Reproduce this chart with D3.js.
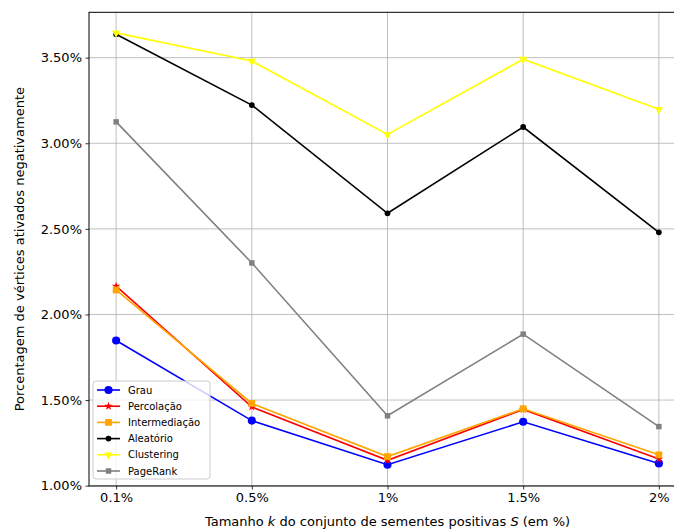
<!DOCTYPE html>
<html lang="en">
<head>
<meta charset="utf-8">
<title>Porcentagem de vértices ativados negativamente</title>
<script src="https://d3js.org/d3.v7.min.js"></script>
<style>
  body { margin: 0; background: #fff; }
  svg text { font-family: "DejaVu Sans", sans-serif; fill: #000; }
  .grid line { stroke: #b0b0b0; stroke-width: 0.8; }
</style>
</head>
<body>
<svg id="chart" width="674" height="531"></svg>
<script>
// data (values in %)
var categories = ["0.1%", "0.5%", "1%", "1.5%", "2%"];
var grau          = [1.848, 1.380, 1.122, 1.373, 1.130];
var percolacao    = [2.165, 1.460, 1.148, 1.445, 1.155];
var intermediacao = [2.143, 1.480, 1.170, 1.449, 1.180];
var aleatorio     = [3.637, 3.223, 2.591, 3.095, 2.480];
var clustering    = [3.645, 3.480, 3.052, 3.491, 3.198];
var pagerank      = [3.125, 2.301, 1.408, 1.885, 1.345];
var yTicks = [1.0, 1.5, 2.0, 2.5, 3.0, 3.5];

var series = [
  {name: "Grau",          values: grau,          color: "#0000ff", symbol: d3.symbolCircle,   size: 52, rot: 0},
  {name: "Percolação",    values: percolacao,    color: "#ff0000", symbol: d3.symbolStar,     size: 22, rot: 0},
  {name: "Intermediação", values: intermediacao, color: "#ffa500", symbol: d3.symbolSquare,   size: 46, rot: 0},
  {name: "Aleatório",     values: aleatorio,     color: "#000000", symbol: d3.symbolCircle,   size: 26, rot: 0},
  {name: "Clustering",    values: clustering,    color: "#ffff00", symbol: d3.symbolTriangle, size: 30, rot: 180},
  {name: "PageRank",      values: pagerank,      color: "#808080", symbol: d3.symbolSquare,   size: 30, rot: 0}
];

var svg = d3.select("#chart");
var plotL = 89, plotR = 686, plotT = 12.3, plotB = 486;

var x = d3.scalePoint().domain(categories).range([plotL, plotR]).padding(0.2);
var y = d3.scaleLinear().domain([0.998, 3.765]).range([plotB, plotT]);

// grid
var grid = svg.append("g").attr("class", "grid");
grid.selectAll(".gx").data(categories).enter().append("line")
    .attr("x1", function(d) { return x(d); }).attr("x2", function(d) { return x(d); })
    .attr("y1", plotT).attr("y2", plotB);
grid.selectAll(".gy").data(yTicks).enter().append("line")
    .attr("x1", plotL).attr("x2", plotR)
    .attr("y1", function(d) { return y(d); }).attr("y2", function(d) { return y(d); });

// lines and markers
var line = d3.line()
    .x(function(d, i) { return x(categories[i]); })
    .y(function(d) { return y(d); });

series.forEach(function(s) {
  var g = svg.append("g");
  g.append("path")
      .attr("d", line(s.values))
      .attr("fill", "none")
      .attr("stroke", s.color)
      .attr("stroke-width", 1.6);
  g.selectAll("path.m").data(s.values).enter().append("path")
      .attr("class", "m")
      .attr("d", d3.symbol().type(s.symbol).size(s.size))
      .attr("transform", function(d, i) {
        return "translate(" + x(categories[i]) + "," + y(d) + ") rotate(" + s.rot + ")";
      })
      .attr("fill", s.color);
});

// axes
var xAxis = svg.append("g")
    .attr("transform", "translate(0," + plotB + ")")
    .call(d3.axisBottom(x).tickSize(3.5).tickPadding(3.5).tickSizeOuter(0));
var yAxis = svg.append("g")
    .attr("transform", "translate(" + plotL + ",0)")
    .call(d3.axisLeft(y).tickValues(yTicks).tickSize(3.5).tickPadding(3.5).tickSizeOuter(0)
      .tickFormat(function(d) { return d3.format(".2f")(d) + "%"; }));
[xAxis, yAxis].forEach(function(a) {
  a.select(".domain").remove();
  a.selectAll("text").attr("font-size", 13).attr("font-family", "DejaVu Sans");
  a.selectAll("line").attr("stroke", "#000").attr("stroke-width", 0.8);
});

// spines
svg.append("rect")
    .attr("x", plotL).attr("y", plotT)
    .attr("width", plotR - plotL).attr("height", plotB - plotT)
    .attr("fill", "none").attr("stroke", "#000").attr("stroke-width", 1);

// axis labels
var xl = svg.append("text")
    .attr("x", (plotL + plotR) / 2).attr("y", 526)
    .attr("text-anchor", "middle").attr("font-size", 13);
xl.append("tspan").text("Tamanho ");
xl.append("tspan").attr("font-style", "italic").text("k");
xl.append("tspan").text(" do conjunto de sementes positivas ");
xl.append("tspan").attr("font-style", "italic").text("S");
xl.append("tspan").text(" (em %)");

svg.append("text")
    .attr("transform", "translate(24," + ((plotT + plotB) / 2) + ") rotate(-90)")
    .attr("text-anchor", "middle").attr("font-size", 13)
    .text("Porcentagem de vértices ativados negativamente");

// legend
var lg = svg.append("g").attr("transform", "translate(93,381)");
lg.append("rect")
    .attr("width", 117).attr("height", 98).attr("rx", 3)
    .attr("fill", "#fff").attr("fill-opacity", 0.8)
    .attr("stroke", "#cccccc").attr("stroke-width", 1);
series.forEach(function(s, i) {
  var yy = 9 + i * 16.2;
  lg.append("line").attr("x1", 4).attr("x2", 27).attr("y1", yy).attr("y2", yy)
      .attr("stroke", s.color).attr("stroke-width", 1.6);
  lg.append("path")
      .attr("d", d3.symbol().type(s.symbol).size(s.size))
      .attr("transform", "translate(15.5," + yy + ") rotate(" + s.rot + ")")
      .attr("fill", s.color);
  lg.append("text").attr("x", 35).attr("y", yy + 3.6)
      .attr("font-size", 10).text(s.name);
});
</script>
</body>
</html>
